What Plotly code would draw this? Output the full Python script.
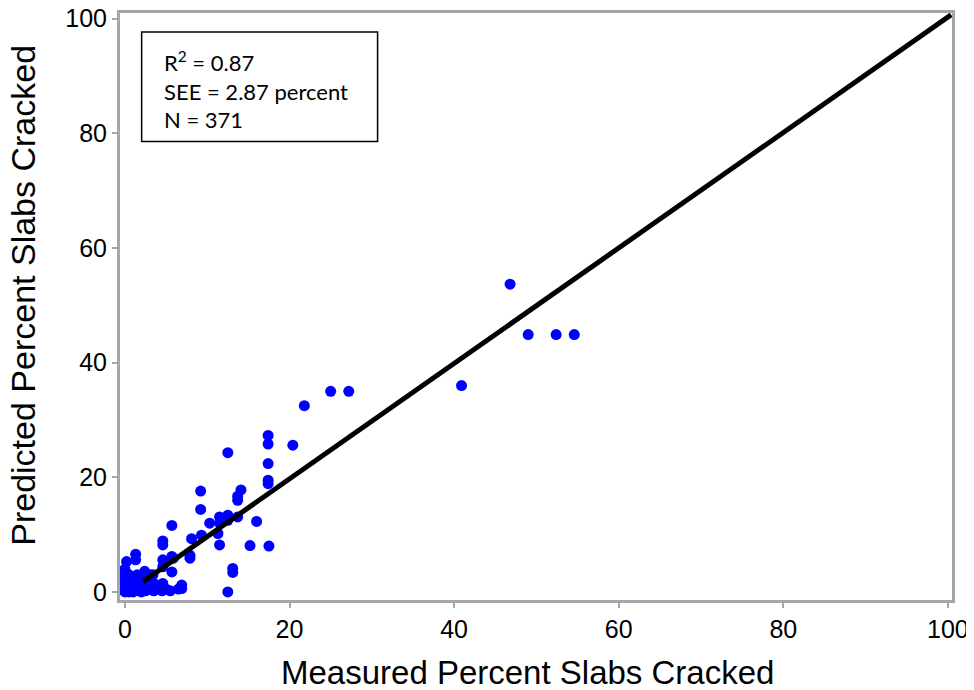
import plotly.graph_objects as go

measured = [46.8, 49.0, 52.4, 54.6, 40.9, 25.0, 27.2, 21.8,
            17.4, 17.4, 20.4, 12.5, 17.4, 17.4, 17.4, 14.1, 13.7, 13.7, 9.2, 9.2,
            11.5, 12.5, 13.7, 10.3, 11.5, 12.5, 16.0, 5.7, 8.1, 9.3, 11.3, 11.5, 15.2, 17.5,
            4.6, 4.6, 7.9, 7.9, 5.7, 5.7, 4.6, 4.6, 13.1, 13.1, 12.5, 1.3, 1.3, 0.2, 5.9,
            0.0, 0.0, 0.0, 0.0, 0.0, 0.0, 0.0, 0.0, 0.0, 0.5, 0.5, 0.5, 0.5,
            1.0, 1.0, 1.0, 1.0, 1.5, 1.5, 1.5, 1.5, 2.0, 2.0, 2.0, 2.5, 2.5, 2.5,
            3.0, 3.0, 3.5, 3.5, 4.0, 4.5, 4.5, 5.0, 5.5, 6.5, 6.9, 6.9, 3.4, 2.4, 4.6]
predicted = [53.7, 44.9, 44.9, 44.9, 36.0, 35.0, 35.0, 32.5,
             27.3, 25.8, 25.6, 24.3, 22.4, 19.5, 18.9, 17.8, 16.7, 16.0, 17.6, 14.4,
             13.1, 13.4, 13.1, 12.0, 12.0, 12.5, 12.3, 11.6, 9.3, 9.9, 10.2, 8.2, 8.1, 8.0,
             8.9, 8.2, 6.4, 5.9, 6.2, 3.5, 5.6, 4.4, 4.1, 3.4, 0.0, 6.6, 5.6, 5.3, 5.9,
             0.0, 0.5, 1.0, 1.5, 2.0, 2.5, 3.0, 3.5, 4.0, 0.0, 1.0, 2.0, 3.0,
             0.0, 0.5, 1.5, 2.5, 0.3, 1.0, 2.0, 3.0, 0.0, 0.8, 2.5, 0.2, 1.5, 3.3,
             0.5, 3.0, 0.2, 1.5, 0.5, 0.2, 1.2, 0.5, 0.2, 0.5, 1.2, 0.6, 3.0, 3.6, 1.5]

line_x = [2.2, 100.4]
line_y = [1.8, 100.7]

x_ticks = [0, 20, 40, 60, 80, 100]
y_ticks = [0, 20, 40, 60, 80, 100]

x_title = "Measured Percent Slabs Cracked"
y_title = "Predicted Percent Slabs Cracked"
stats_text = "R<sup>2</sup> = 0.87<br>SEE = 2.87 percent<br>N = 371"

fig = go.Figure()
fig.add_trace(go.Scatter(x=measured, y=predicted, mode="markers",
                         marker=dict(color="#0000ff", size=11, line=dict(width=0)),
                         showlegend=False))
fig.add_trace(go.Scatter(x=line_x, y=line_y, mode="lines",
                         line=dict(color="black", width=5), showlegend=False))

axis_common = dict(showgrid=False, zeroline=False, showline=True, mirror=True,
                   linecolor="#a3a6aa", linewidth=3, ticks="outside", ticklen=5,
                   tickwidth=2, tickcolor="#a3a6aa", automargin=False,
                   ticklabeloverflow="allow",
                   tickfont=dict(family="Liberation Sans, Arial", size=25, color="black"))

fig.update_xaxes(range=[-0.6, 100.5], tickvals=x_ticks, **axis_common)
fig.update_yaxes(range=[-1.4, 101.0], tickvals=y_ticks, **axis_common)

fig.add_annotation(x=0.49, y=-0.124, xref="paper", yref="paper", text=x_title,
                   showarrow=False, xanchor="center", yanchor="middle",
                   font=dict(family="Liberation Sans, Arial", size=33, color="black"))
fig.add_annotation(x=-0.1166, y=0.52, xref="paper", yref="paper", text=y_title,
                   showarrow=False, xanchor="center", yanchor="middle", textangle=-90,
                   font=dict(family="Liberation Sans, Arial", size=34, color="black"))

fig.add_shape(type="rect", xref="x", yref="y", x0=2.03, x1=30.7, y0=78.6, y1=97.7,
              line=dict(color="black", width=1.5), fillcolor="white", layer="below")
fig.add_annotation(x=4.5, y=87.6, xref="x", yref="y", text=stats_text, showarrow=False,
                   xanchor="left", yanchor="middle", align="left",
                   font=dict(family="Lato, Open Sans", size=22, color="black"))

# page body has an 8px margin, so the figure is offset by (8, 8)
fig.update_layout(width=974, height=690, plot_bgcolor="white", paper_bgcolor="white",
                  margin=dict(l=112, r=30, t=5, b=98))

fig.write_html("out.html")
